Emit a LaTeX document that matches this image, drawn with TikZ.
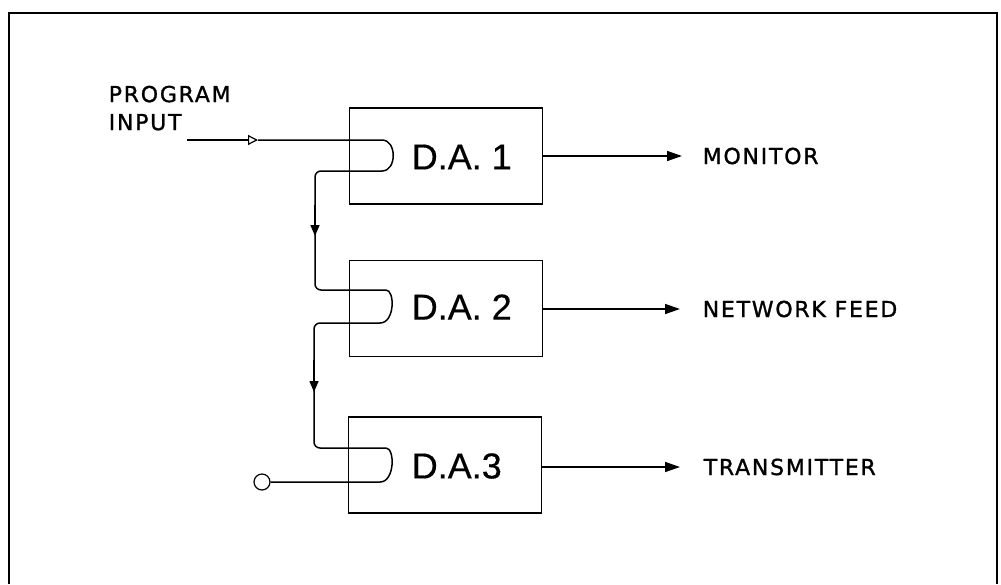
\documentclass[tikz,border=0pt]{standalone}
\usepackage{fontspec}
\setmainfont{Liberation Sans}
\newfontfamily\dafont[FakeBold=0.4]{Liberation Sans}
\newfontfamily\lblfont[LetterSpace=8,FakeBold=1.2]{DejaVu Sans}
\usetikzlibrary{arrows.meta}
\begin{document}
\begin{tikzpicture}[x=1pt,y=-1pt,
  line width=1.5pt,
  dabox/.style={draw, rectangle, minimum width=193pt, minimum height=96pt, inner sep=0pt, line width=1.7pt},
  dalabel/.style={inner sep=0pt, anchor=west, font=\dafont\fontsize{36}{40}\selectfont},
  lbl/.style={inner sep=0pt, anchor=west, font=\lblfont\fontsize{22}{28}\selectfont},
  outarrow/.style={-{Triangle[length=15pt,width=10pt]}},
  downarrow/.style={-{Triangle[length=11pt,width=9pt]}},
  inarrow/.style={-{Triangle[open,length=10pt,width=10pt]}, line width=1.2pt}
]
\useasboundingbox (0,0) rectangle (1001,584);
% frame
\draw[line width=2.2pt] (9,584) -- (9,13) -- (997,13) -- (997,584);

% boxes
\node[dabox] (da1) at (446,156) {};
\node[dabox] (da2) at (446,308.5) {};
\node[dabox] (da3) at (445,465) {};
\node[dalabel] (t1) at (411,157) {D.A. 1};
\node[dalabel] (t2) at (411,307) {D.A. 2};
\node[dalabel] (t3) at (411,466) {D.A.3};

% input label
\node[inner sep=0pt, anchor=north west, align=left, font=\lblfont\fontsize{22}{28}\selectfont] (pin) at (108,85) {PROGRAM\\INPUT};

% coordinates
\coordinate (in1) at (187,140);
\coordinate (tri) at (258,140);
\node[circle, draw, minimum size=16pt, inner sep=0pt, line width=1.2pt] (src) at (262,482) {};

% input arrow
\draw[inarrow] (in1) -- (tri);
% main chain
\draw (tri) -- (382,140) .. controls (397,140) and (397,171) .. (382,171)
  [rounded corners=6pt] -- (315,171) -- (315,290) -- (380,290) [sharp corners]
  .. controls (395,290) and (395,323) .. (380,323)
  [rounded corners=6pt] -- (314,323) -- (314,448) -- (380,448) [sharp corners]
  .. controls (395,448) and (395,482) .. (380,482) -- (src.east);
% mid arrows
\draw[downarrow] (315,205) -- (315,236);
\draw[downarrow] (314,360) -- (314,392);

% outputs
\node[lbl] (mon) at (702,156) {MONITOR};
\node[lbl] (net) at (702,309) {NETWORK FEED};
\node[lbl] (tx) at (703,467) {TRANSMITTER};
\draw[outarrow] (da1.east) -- ([xshift=-20pt]mon.west);
\draw[outarrow] (da2.east |- net.west) -- ([xshift=-22pt]net.west);
\draw[outarrow] (da3.east |- tx.west) -- ([xshift=-23pt]tx.west);
\end{tikzpicture}
\end{document}
